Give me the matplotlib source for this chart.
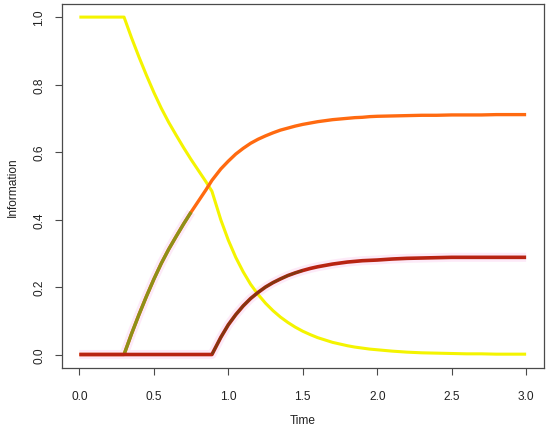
import matplotlib
matplotlib.use("Agg")
import matplotlib.pyplot as plt
import numpy as np

# Time samples
time = [0.0, 0.05, 0.10, 0.15, 0.20, 0.25, 0.30, 0.35, 0.40, 0.45, 0.50,
        0.55, 0.60, 0.65, 0.70, 0.75, 0.80, 0.85, 0.89, 0.95, 1.00,
        1.05, 1.10, 1.15, 1.20, 1.25, 1.30, 1.35, 1.40, 1.45, 1.50,
        1.55, 1.60, 1.65, 1.70, 1.75, 1.80, 1.85, 1.90, 1.95, 2.00,
        2.10, 2.20, 2.30, 2.40, 2.50, 2.60, 2.70, 2.80, 2.90, 3.00]

# Yellow series
info_yellow = [1.0, 1.0, 1.0, 1.0, 1.0, 1.0, 1.0, 0.939, 0.882, 0.828, 0.777,
               0.730, 0.688, 0.650, 0.613, 0.578, 0.545, 0.512, 0.484, 0.399, 0.339,
               0.288, 0.245, 0.208, 0.178, 0.152, 0.130, 0.111, 0.095, 0.081, 0.069,
               0.059, 0.050, 0.043, 0.036, 0.031, 0.026, 0.022, 0.019, 0.016, 0.014,
               0.010, 0.007, 0.005, 0.004, 0.003, 0.002, 0.002, 0.001, 0.001, 0.001]

# Orange series
info_orange = [0.0, 0.0, 0.0, 0.0, 0.0, 0.0, 0.0, 0.061, 0.118, 0.172, 0.223,
               0.270, 0.312, 0.350, 0.387, 0.422, 0.455, 0.488, 0.516, 0.550, 0.573,
               0.594, 0.611, 0.626, 0.638, 0.648, 0.657, 0.665, 0.671, 0.677, 0.682,
               0.686, 0.690, 0.693, 0.696, 0.698, 0.700, 0.702, 0.703, 0.705, 0.706,
               0.707, 0.708, 0.709, 0.709, 0.710, 0.710, 0.710, 0.711, 0.711, 0.711]

# Dark red series
info_red = [0.0, 0.0, 0.0, 0.0, 0.0, 0.0, 0.0, 0.0, 0.0, 0.0, 0.0,
            0.0, 0.0, 0.0, 0.0, 0.0, 0.0, 0.0, 0.0, 0.051, 0.088,
            0.118, 0.144, 0.166, 0.184, 0.200, 0.213, 0.224, 0.234, 0.242, 0.249,
            0.255, 0.260, 0.264, 0.268, 0.271, 0.274, 0.276, 0.278, 0.279, 0.280,
            0.283, 0.285, 0.286, 0.287, 0.288, 0.288, 0.288, 0.288, 0.288, 0.288]

x_ticks = [0.0, 0.5, 1.0, 1.5, 2.0, 2.5, 3.0]
x_tick_labels = ["0.0", "0.5", "1.0", "1.5", "2.0", "2.5", "3.0"]
y_ticks = [0.0, 0.2, 0.4, 0.6, 0.8, 1.0]
y_tick_labels = ["0.0", "0.2", "0.4", "0.6", "0.8", "1.0"]

plt.rcParams['font.family'] = ['Liberation Sans', 'DejaVu Sans']

t = np.array(time)
yel = np.array(info_yellow)
org = np.array(info_orange)
red = np.array(info_red)

fig = plt.figure(figsize=(5.5, 4.31), dpi=100)
ax = fig.add_axes([61.5 / 550, (431 - 369) / 431, (544 - 61.5) / 550, (369 - 4.6) / 431])

# faint pink halos (compression tint around darker marks)
olive_mask = (t >= 0.3) & (t <= 0.75)
ax.plot(t, red, color='#FDEAF8', lw=6.5, solid_capstyle='butt', zorder=1)
ax.plot(t[olive_mask], org[olive_mask], color='#FDEAF8', lw=6.5, solid_capstyle='butt', zorder=1)

ax.plot(t, yel, color='#F4F400', lw=2.2, solid_capstyle='butt', zorder=2)
ax.plot(t, org, color='#FF6A10', lw=2.4, solid_capstyle='butt', zorder=3)
ax.plot(t[olive_mask], org[olive_mask], color='#8E9018', lw=2.4, solid_capstyle='butt', zorder=3.5)
ax.plot(t, red, color='#B82412', lw=2.6, solid_capstyle='butt', zorder=4)
brown_mask = (t >= 0.89) & (t <= 1.5)
ax.plot(t[brown_mask], red[brown_mask], color='#7A3A10', lw=1.8, solid_capstyle='butt', zorder=4.5, alpha=0.85)

ax.set_xlim(-0.12, 3.12)
ax.set_ylim(-0.04, 1.04)
ax.set_xticks(x_ticks)
ax.set_xticklabels(x_tick_labels)
ax.set_yticks(y_ticks)
ax.set_yticklabels(y_tick_labels, rotation=90, va='center')

for s in ax.spines.values():
    s.set_color('#4a4a4a')
    s.set_linewidth(0.9)

ax.tick_params(axis='both', direction='out', length=5.2, width=0.8, color='#4a4a4a',
               labelsize=8.6, labelcolor='#222222')
ax.tick_params(axis='x', pad=10.5)
ax.tick_params(axis='y', pad=6.5)

ax.set_xlabel("Time", fontsize=8.6, color='#222222', labelpad=9)
ax.set_ylabel("Information", fontsize=8.6, color='#222222', labelpad=10.5)

fig.savefig("out.png", dpi=100)
